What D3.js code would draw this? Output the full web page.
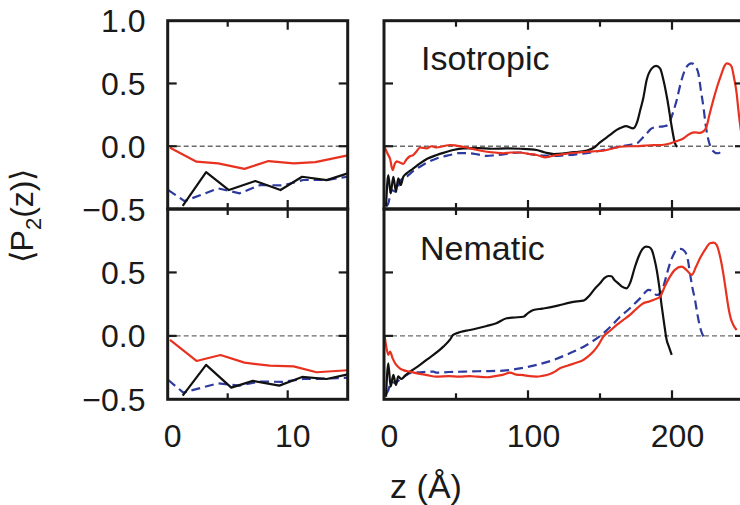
<!DOCTYPE html>
<html>
<head>
<meta charset="utf-8">
<script src="https://cdn.jsdelivr.net/npm/d3@7"></script>
<style>
  html, body { margin: 0; padding: 0; background: #fff; }
  svg { display: block; font-family: "Liberation Sans", Arial, Helvetica, sans-serif; }
</style>
</head>
<body>
<svg id="chart" width="740" height="505"></svg>
<script>
// Orientational order parameter <P2(z)> profiles, three systems, isotropic and nematic phases.
// Each series: [z (Å), P2]

// ---- Isotropic, near-wall zoom (0–15 Å)
const isoNearRed   = [[0.2,-0.012],[2.4,-0.123],[4.2,-0.137],[6.4,-0.18],[8.4,-0.118],[10.5,-0.137],[12.3,-0.126],[15,-0.073]];
const isoNearBlack = [[1.25,-0.476],[3.2,-0.206],[5.1,-0.349],[7.3,-0.277],[9.4,-0.349],[11.2,-0.243],[13.25,-0.27],[15,-0.216]];
const isoNearBlue  = [[0.05,-0.349],[1.4,-0.437],[4.2,-0.336],[6.0,-0.375],[7.7,-0.309],[9.6,-0.312],[11.3,-0.269],[13.25,-0.269],[15,-0.243]];

// ---- Nematic, near-wall zoom (0–15 Å)
const nemNearRed   = [[0.19,-0.032],[2.4,-0.198],[4.4,-0.151],[6.4,-0.211],[8.5,-0.235],[10.5,-0.24],[12.4,-0.287],[15,-0.271]];
const nemNearBlack = [[1.25,-0.471],[3.2,-0.229],[5.3,-0.408],[7.1,-0.355],[9.3,-0.392],[11.2,-0.324],[13.25,-0.34],[15,-0.303]];
const nemNearBlue  = [[0.05,-0.348],[1.3,-0.447],[4.2,-0.374],[6.0,-0.392],[7.7,-0.36],[9.6,-0.363],[11.3,-0.34],[13.25,-0.337],[15,-0.329]];

// ---- Isotropic, full film
const isoBlack = [[1.4,-0.48],[3,-0.23],[4.6,-0.376],[6.5,-0.243],[8.3,-0.362],[9.9,-0.256],[11.6,-0.309],[13.4,-0.243],[15.7,-0.216],[20,-0.18],[25,-0.136],[30,-0.1],[36.6,-0.07],[42,-0.05],[48,-0.03],[55,-0.017],[65,-0.015],[75,-0.02],[85,-0.017],[95,-0.02],[106,-0.03],[112,-0.05],[118,-0.062],[124,-0.058],[129,-0.05],[135,-0.045],[141,-0.035],[146,-0.01],[150,0.03],[157,0.09],[161.6,0.13],[165,0.15],[168,0.16],[173,0.142],[176,0.2],[178,0.29],[180,0.38],[182.4,0.527],[186,0.62],[189,0.64],[191.7,0.62],[194,0.53],[196.8,0.37],[199.8,0.155],[202.1,0.022],[203.7,-0.005]];
const isoBlue  = [[1.5,-0.48],[3,-0.455],[5.3,-0.349],[8.1,-0.362],[11.6,-0.27],[15.7,-0.243],[20,-0.2],[25,-0.163],[30,-0.13],[36.6,-0.097],[45.8,-0.07],[52,-0.055],[59.7,-0.056],[65,-0.065],[71.3,-0.077],[77,-0.072],[82.9,-0.065],[88,-0.055],[94.4,-0.05],[100,-0.06],[106,-0.07],[112,-0.075],[117.6,-0.077],[123,-0.075],[129,-0.07],[135,-0.063],[140.7,-0.056],[146,-0.045],[152.3,-0.03],[158,-0.015],[163.9,-0.004],[170,0.01],[175.5,0.022],[179,0.06],[182.4,0.1],[185,0.135],[187,0.147],[191,0.155],[194,0.158],[196.5,0.165],[198.6,0.2],[201,0.28],[203.3,0.369],[206,0.5],[209,0.608],[211.5,0.65],[213.7,0.66],[216,0.64],[218.3,0.581],[220,0.45],[221.8,0.315],[223.5,0.16],[225.3,0.05],[227,-0.01],[228.7,-0.04],[230.5,-0.055],[232.2,-0.056],[234,-0.04],[235,-0.02]];
const isoRed   = [[0.5,-0.01],[2.5,-0.06],[4.2,-0.1],[6,-0.19],[7.5,-0.14],[8.8,-0.12],[11,-0.13],[13.4,-0.14],[15.7,-0.104],[18,-0.08],[20.3,-0.07],[22.7,-0.04],[25,-0.01],[29.6,-0.017],[33,0.0],[36.6,-0.01],[41,0.0],[45.8,0.01],[50,0.005],[55,-0.005],[59.7,-0.017],[65,-0.03],[71.3,-0.044],[77,-0.05],[82.9,-0.056],[88,-0.05],[94.4,-0.05],[100,-0.06],[106,-0.07],[111.8,-0.088],[116,-0.08],[119.9,-0.07],[125,-0.062],[129,-0.056],[135,-0.05],[140.7,-0.044],[146,-0.04],[152.3,-0.036],[158,-0.02],[163.9,-0.004],[170,0.0],[175.5,0.0],[181,0.005],[187,0.009],[193,0.01],[198.6,0.022],[203,0.04],[207.9,0.062],[210,0.08],[212.5,0.1],[216,0.11],[219.4,0.107],[222,0.12],[224,0.156],[226,0.25],[228.7,0.369],[231.5,0.48],[234.5,0.581],[236.5,0.64],[238,0.66],[239.7,0.655],[241.4,0.634],[243,0.55],[244.9,0.421],[246,0.3],[247.2,0.18],[248.5,0.08],[250,0.0]];

// ---- Nematic, full film
const nemBlack = [[1.4,-0.48],[3,-0.216],[4.6,-0.4],[6.5,-0.308],[8.3,-0.387],[9.9,-0.32],[12,-0.34],[15,-0.31],[18,-0.282],[21,-0.26],[25,-0.229],[30,-0.185],[34.3,-0.15],[41.2,-0.085],[45.8,-0.03],[48,0.007],[53,0.03],[59.7,0.046],[65,0.06],[71.3,0.078],[78,0.1],[85.2,0.139],[91,0.145],[96.8,0.151],[100,0.18],[103.7,0.204],[110,0.215],[117.6,0.23],[123,0.245],[129,0.262],[134,0.272],[138.3,0.278],[143,0.322],[147,0.38],[150,0.414],[153,0.455],[156,0.472],[158,0.47],[160,0.44],[162.7,0.414],[165,0.39],[168.5,0.375],[171,0.42],[174.3,0.545],[177,0.63],[180,0.69],[182,0.703],[184,0.7],[186,0.677],[187.5,0.62],[189.4,0.519],[191,0.4],[192.9,0.23],[194.5,0.1],[196.3,-0.032],[198,-0.09],[199.8,-0.15]];
const nemBlue  = [[1.5,-0.46],[3,-0.427],[5,-0.36],[7.5,-0.37],[11.6,-0.34],[15.7,-0.308],[18,-0.295],[25,-0.287],[34.3,-0.282],[36.6,-0.29],[45,-0.285],[52,-0.283],[59.7,-0.28],[70,-0.278],[82.9,-0.274],[94.4,-0.256],[106,-0.229],[117.6,-0.19],[129,-0.137],[140.7,-0.072],[152.3,0.02],[158,0.08],[163.9,0.151],[170,0.21],[175.5,0.27],[179,0.31],[182,0.35],[183.6,0.362],[186,0.355],[189.4,0.322],[192,0.34],[194,0.388],[196,0.47],[198.6,0.572],[201,0.64],[203.3,0.677],[206,0.685],[209,0.664],[211,0.6],[212.5,0.493],[214,0.39],[216,0.283],[217.5,0.18],[219.4,0.072],[221.8,-0.006]];
const nemRed   = [[0.5,-0.006],[1.5,-0.08],[3,-0.15],[4.2,-0.124],[6,-0.177],[8.5,-0.229],[11,-0.256],[13.4,-0.27],[18,-0.282],[25,-0.3],[30,-0.31],[36.6,-0.321],[45,-0.318],[52,-0.322],[59.7,-0.318],[65,-0.322],[71.3,-0.326],[78,-0.315],[83,-0.305],[87.5,-0.29],[92,-0.305],[96.8,-0.31],[101,-0.318],[106,-0.321],[110,-0.315],[115.3,-0.3],[119,-0.28],[122.2,-0.256],[126,-0.24],[129,-0.229],[134,-0.21],[138.4,-0.19],[142,-0.16],[145.4,-0.124],[149,-0.07],[152.3,-0.006],[157,0.04],[161.6,0.086],[166,0.125],[170.8,0.165],[175,0.21],[180.1,0.257],[184,0.27],[187,0.283],[191.7,0.309],[195,0.39],[198.6,0.467],[202,0.52],[206.7,0.545],[210,0.52],[213.7,0.48],[216.5,0.54],[219.4,0.611],[223,0.68],[226.4,0.73],[229,0.735],[231,0.716],[233.5,0.62],[235.6,0.493],[237.5,0.35],[239.1,0.23],[241,0.13],[242.6,0.086],[244.9,0.046]];

// ---- Axis ticks and labels
const nearMajor = [10], nearMinor = [5];
const fullMajor = [100, 200], fullMinor = [50, 150];
const yTicks = [0.5, 0.0];
const topYLabels = [1.0, 0.5, 0.0, -0.5];
const bottomYLabels = [0.5, 0.0, -0.5];
const nearXLabels = [0, 10];
const fullXLabels = [0, 100, 200];
const phaseNames = ["Isotropic", "Nematic"];

const colors = { red: "#e8321f", black: "#111111", blue: "#2d3a9e" };

const svg = d3.select("#chart");

// Panel geometry
const colNear = { x0: 167.7, x1: 347.7, domain: [0, 15] };
const colFull = { x0: 384, x1: 744, domain: [0, 250] };
const rowTop = { y0: 20.7, y1: 209 };
const rowBot = { y0: 209, y1: 399.3 };
const yDomain = [-0.5, 1.0];

const xNear = d3.scaleLinear().domain(colNear.domain).range([colNear.x0, colNear.x1]);
const xFull = d3.scaleLinear().domain(colFull.domain).range([colFull.x0, colFull.x1]);
const yTop = d3.scaleLinear().domain(yDomain).range([rowTop.y1, rowTop.y0]);
const yBot = d3.scaleLinear().domain(yDomain).range([rowBot.y1, rowBot.y0]);

const fmt = v => (v < 0 ? "\u2212" : "") + Math.abs(v).toFixed(1);

let clipId = 0;
function panel(x, y, col, row, series, major, minor, smooth, label) {
  const g = svg.append("g");
  const id = "clip" + (clipId++);
  svg.append("clipPath").attr("id", id).append("rect")
    .attr("x", col.x0).attr("y", row.y0)
    .attr("width", col.x1 - col.x0).attr("height", row.y1 - row.y0);

  // zero reference line
  g.append("line")
    .attr("x1", x.range()[0]).attr("x2", x.range()[1])
    .attr("y1", y(0)).attr("y2", y(0))
    .attr("stroke", "#6b6b6b").attr("stroke-width", 1.3)
    .attr("stroke-dasharray", "5,3");

  const line = d3.line().x(d => x(d[0])).y(d => y(d[1]))
    .curve(smooth ? d3.curveMonotoneX : d3.curveLinear);
  const lines = g.append("g").attr("clip-path", `url(#${id})`);
  series.forEach(s => {
    lines.append("path").datum(s.data)
      .attr("d", line)
      .attr("fill", "none")
      .attr("stroke", colors[s.color])
      .attr("stroke-width", 2.2)
      .attr("stroke-linejoin", "round")
      .attr("stroke-dasharray", s.dash ? "9,5" : null);
  });

  // inward ticks on all sides
  const tickG = g.append("g").attr("stroke", "#1a1a1a").attr("stroke-width", 2.2);
  const addX = (vals, len) => vals.forEach(v => {
    tickG.append("line").attr("x1", x(v)).attr("x2", x(v)).attr("y1", row.y0).attr("y2", row.y0 + len);
    tickG.append("line").attr("x1", x(v)).attr("x2", x(v)).attr("y1", row.y1).attr("y2", row.y1 - len);
  });
  addX(major, 9);
  addX(minor, 6);
  yTicks.forEach(v => {
    tickG.append("line").attr("x1", col.x0).attr("x2", col.x0 + 9).attr("y1", y(v)).attr("y2", y(v));
    tickG.append("line").attr("x1", col.x1).attr("x2", col.x1 - 9).attr("y1", y(v)).attr("y2", y(v));
  });

  // frame
  g.append("rect")
    .attr("x", col.x0).attr("y", row.y0)
    .attr("width", col.x1 - col.x0).attr("height", row.y1 - row.y0)
    .attr("fill", "none").attr("stroke", "#1a1a1a").attr("stroke-width", 3);

  if (label) {
    g.append("text").attr("x", label.x).attr("y", label.y)
      .attr("font-size", 34).attr("fill", "#1a1a1a").text(label.text);
  }
}

panel(xNear, yTop, colNear, rowTop, [
  { data: isoNearRed, color: "red" },
  { data: isoNearBlue, color: "blue", dash: true },
  { data: isoNearBlack, color: "black" }
], nearMajor, nearMinor, false);

panel(xNear, yBot, colNear, rowBot, [
  { data: nemNearRed, color: "red" },
  { data: nemNearBlue, color: "blue", dash: true },
  { data: nemNearBlack, color: "black" }
], nearMajor, nearMinor, false);

panel(xFull, yTop, colFull, rowTop, [
  { data: isoBlue, color: "blue", dash: true },
  { data: isoBlack, color: "black" },
  { data: isoRed, color: "red" }
], fullMajor, fullMinor, true, { x: 421, y: 70, text: phaseNames[0] });

panel(xFull, yBot, colFull, rowBot, [
  { data: nemBlue, color: "blue", dash: true },
  { data: nemBlack, color: "black" },
  { data: nemRed, color: "red" }
], fullMajor, fullMinor, true, { x: 420, y: 260, text: phaseNames[1] });

// y tick labels
const labG = svg.append("g").attr("font-size", 32).attr("fill", "#1a1a1a");
topYLabels.forEach(v => labG.append("text").attr("x", 145.5).attr("y", yTop(v)).attr("dy", "0.36em")
  .attr("text-anchor", "end").text(fmt(v)));
bottomYLabels.forEach(v => labG.append("text").attr("x", 145.5).attr("y", yBot(v)).attr("dy", "0.36em")
  .attr("text-anchor", "end").text(fmt(v)));

// x tick labels
nearXLabels.forEach(v => labG.append("text").attr("x", xNear(v) + 5).attr("y", 446.5)
  .attr("text-anchor", "middle").text(v));
fullXLabels.forEach(v => labG.append("text").attr("x", xFull(v) + 5.5).attr("y", 446.5)
  .attr("text-anchor", "middle").text(v));

// axis titles
svg.append("text").attr("x", 426).attr("y", 498.3).attr("text-anchor", "middle")
  .attr("font-size", 34).attr("fill", "#1a1a1a").text("z (Å)");

const yTitle = svg.append("text")
  .attr("transform", "translate(33,216) rotate(-90)")
  .attr("text-anchor", "middle").attr("font-size", 32).attr("fill", "#1a1a1a");
yTitle.append("tspan").text("\u27E8P");
yTitle.append("tspan").attr("font-size", 22).attr("dy", 8).text("2");
yTitle.append("tspan").attr("dy", -8).text("(z)\u27E9");
</script>
</body>
</html>
